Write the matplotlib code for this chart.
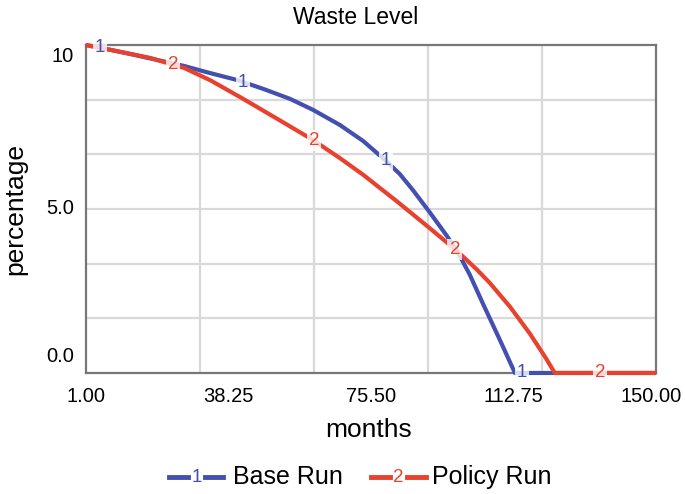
import numpy as np
import matplotlib
matplotlib.use('Agg')
import matplotlib.pyplot as plt
import matplotlib.transforms as mtransforms
from matplotlib.lines import Line2D

plt.rcParams['font.family'] = ['Liberation Sans', 'DejaVu Sans']

# data (months, percentage)
base_t = [1.0, 7.5, 13.6, 26.7, 33.6, 40.6, 47.4, 54.3, 60.4, 67.4, 73.5, 79.1, 83.0,
          86.5, 90.9, 95.2, 97.9, 101.3, 104.8, 109.2, 113.1, 150.0]
base_v = [10.0, 9.85, 9.70, 9.36, 9.14, 8.93, 8.66, 8.36, 8.02, 7.56, 7.07, 6.50, 6.07,
          5.57, 4.89, 4.20, 3.74, 3.00, 2.10, 1.00, 0.0, 0.0]
policy_t = [1.0, 11.0, 18.0, 26.7, 33.6, 41.5, 45.6, 52.6, 60.4, 67.4, 73.5, 77.4,
            82.2, 86.5, 90.9, 95.2, 98.7, 103.1, 106.5, 111.8, 117.0, 121.3, 123.5, 150.0]
policy_v = [10.0, 9.77, 9.60, 9.30, 8.92, 8.40, 8.12, 7.64, 7.10, 6.55, 6.04, 5.68,
            5.24, 4.83, 4.41, 3.99, 3.64, 3.16, 2.75, 2.02, 1.20, 0.43, 0.0, 0.0]

xtick_vals = [1.00, 38.25, 75.50, 112.75, 150.00]
ytick_vals = [0, 5, 10]
ytick_labels = ['0.0', '5.0', '10']

blue = '#4350b0'
red = '#e8412e'

fig = plt.figure(figsize=(6.85, 4.94), dpi=100)
ax = fig.add_axes([0.125, 0.245, 0.833, 0.664])
ax.set_xlim(1, 150)
ax.set_ylim(0, 10)

# grid: 5 vertical, 6 horizontal divisions
for g in np.linspace(1, 150, 6)[1:-1]:
    ax.axvline(g, color='#d9d9d9', lw=1.6, zorder=0)
for g in np.linspace(0, 10, 7)[1:-1]:
    ax.axhline(g, color='#d9d9d9', lw=1.6, zorder=0)

ax.plot(base_t, base_v, color=blue, lw=3, clip_on=False, zorder=3,
        solid_capstyle='butt', solid_joinstyle='round')
ax.plot(policy_t, policy_v, color=red, lw=3, clip_on=False, zorder=4,
        solid_capstyle='butt', solid_joinstyle='round')

# numbered markers along the lines
for t in [4.7, 42.1, 79.4, 114.9]:
    ax.text(t, np.interp(t, base_t, base_v), '1', color=blue, fontsize=13.5,
            ha='center', va='center', zorder=5,
            bbox=dict(facecolor='white', alpha=0.8, edgecolor='none', pad=1.5))
for t in [23.8, 60.6, 97.4, 135.3]:
    ax.text(t, np.interp(t, policy_t, policy_v), '2', color=red, fontsize=13.5,
            ha='center', va='center', zorder=6,
            bbox=dict(facecolor='white', alpha=0.8, edgecolor='none', pad=1.5))

for s in ax.spines.values():
    s.set_color('#777777')
    s.set_linewidth(1.6)

ax.set_xticks(xtick_vals)
ax.set_xticklabels(['%.2f' % v for v in xtick_vals], fontsize=14.5)
ax.tick_params(axis='x', length=0, pad=10)
# keep the last label inside the figure
last = ax.get_xticklabels()[-1]
last.set_transform(last.get_transform() + mtransforms.ScaledTranslation(-5 / 100, 0, fig.dpi_scale_trans))
ax.set_yticks([])
for v, lab in zip(ytick_vals, ytick_labels):
    va = 'top' if v == 10 else ('bottom' if v == 0 else 'center')
    off = -0.05 if v == 10 else (0.22 if v == 0 else 0)
    ax.text(-0.02, v + off, lab, transform=ax.get_yaxis_transform(),
            ha='right', va=va, fontsize=14.5)

fig.text(356 / 685, 1 - 18 / 494, 'Waste Level', ha='center', va='center', fontsize=16.5)
fig.text(369 / 685, 1 - 430 / 494, 'months', ha='center', va='center', fontsize=19)
fig.text(15 / 685, 1 - 209 / 494, 'percentage', ha='center', va='center', rotation=90, fontsize=19)

# legend
ly = 1 - 477 / 494
for (x0, x1, x2, x3, num, col, lab, xt) in [(169, 188, 205, 223, '1', blue, 'Base Run', 233),
                                            (371, 390, 407, 426, '2', red, 'Policy Run', 432)]:
    fig.add_artist(Line2D([x0 / 685, x1 / 685], [ly, ly], color=col, lw=3.5, transform=fig.transFigure))
    fig.add_artist(Line2D([x2 / 685, x3 / 685], [ly, ly], color=col, lw=3.5, transform=fig.transFigure))
    fig.text((x1 + x2) / 2 / 685, ly, num, color=col, ha='center', va='center', fontsize=13.5)
    fig.text(xt / 685, ly, lab, ha='left', va='center', fontsize=18)

fig.savefig('out.png', dpi=100)
